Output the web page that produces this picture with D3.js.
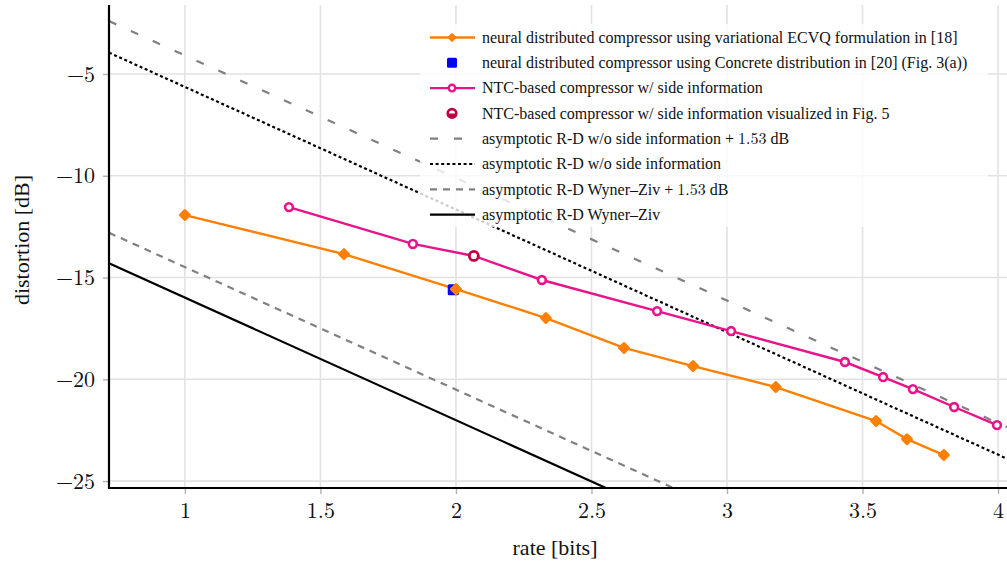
<!DOCTYPE html>
<html><head><meta charset="utf-8">
<script src="https://cdn.jsdelivr.net/npm/d3@7"></script>
<style>
html,body{margin:0;padding:0;background:#fff;}
</style></head>
<body>
<svg id="chart" width="1007" height="563"></svg>
<script>
// ---- data ----
const ecvqRate = [1.0, 1.587, 2.0, 2.332, 2.62, 2.875, 3.18, 3.55, 3.664, 3.80];
const ecvqDist = [-11.93, -13.85, -15.57, -16.99, -18.46, -19.35, -20.38, -22.05, -22.94, -23.72];
const concreteRate = [1.99];
const concreteDist = [-15.6];
const ntcRate = [1.384, 1.841, 2.066, 2.317, 2.742, 3.015, 3.435, 3.576, 3.686, 3.838, 3.996];
const ntcDist = [-11.54, -13.35, -13.94, -15.12, -16.65, -17.63, -19.15, -19.89, -20.48, -21.36, -22.25];
const ntcVisRate = [2.066];
const ntcVisDist = [-13.94];
const asymRate = [0.72, 4.033];
const noSiPlusDist = [-2.4, -22.35];
const noSiDist = [-3.95, -23.9];
const wzPlusDist = [-12.8, -32.75];
const wzDist = [-14.3, -34.25];
const xTicks = [1, 1.5, 2, 2.5, 3, 3.5, 4];
const yTicks = [-25, -20, -15, -10, -5];
// legend labels: [text, math part (Computer Modern), trailing text]
const legendLabels = [
  ["neural distributed compressor using variational ECVQ formulation in [18]", "", ""],
  ["neural distributed compressor using Concrete distribution in [20] (Fig. 3(a))", "", ""],
  ["NTC-based compressor w/ side information", "", ""],
  ["NTC-based compressor w/ side information visualized in Fig. 5", "", ""],
  ["asymptotic R-D w/o side information + ", "1.53", " dB"],
  ["asymptotic R-D w/o side information", "", ""],
  ["asymptotic R-D Wyner\u2013Ziv + ", "1.53", " dB"],
  ["asymptotic R-D Wyner\u2013Ziv", "", ""]
];

// ---- layout ----
const TEXTFONT = '"Liberation Serif", serif';
const MATHFONT = '"Latin Modern Roman", "Liberation Serif", serif';
const L = 109, R = 1007, T = 5, B = 488;
const x = d3.scaleLinear().domain([0.72, 4.033]).range([L, R]);
const y = d3.scaleLinear().domain([-25.34, -1.61]).range([B, T]);

const ORANGE = "#ff8000", PINK = "#e8138a", PURPLE = "#bf0040", BLUE = "#0000ff";

const svg = d3.select("#chart");
svg.append("defs").append("clipPath").attr("id","clip")
  .append("rect").attr("x",L).attr("y",T).attr("width",R-L).attr("height",B-T);

// grid
const grid = svg.append("g");
grid.selectAll(".gx").data(xTicks).join("line")
  .attr("x1",d=>x(d)).attr("x2",d=>x(d)).attr("y1",T).attr("y2",B)
  .attr("stroke","#e2e2e2").attr("stroke-width",1.6);
grid.selectAll(".gy").data(yTicks).join("line")
  .attr("x1",L).attr("x2",R).attr("y1",d=>y(d)).attr("y2",d=>y(d))
  .attr("stroke","#e2e2e2").attr("stroke-width",1.6);

const plot = svg.append("g").attr("clip-path","url(#clip)");
const line = d3.line().x(d=>x(d[0])).y(d=>y(d[1]));
const zip = (a,b)=>a.map((v,i)=>[v,b[i]]);

const asym = [
  {d: noSiPlusDist, color:"#808080", dash:"8,16", w:2.2},
  {d: noSiDist, color:"#000", dash:"3,2.6", w:2.2},
  {d: wzPlusDist, color:"#808080", dash:"7,6", w:2.2},
  {d: wzDist, color:"#000", dash:null, w:2.2}
];
asym.forEach(a=>{
  plot.append("path").datum(zip(asymRate,a.d)).attr("d",line)
    .attr("fill","none").attr("stroke",a.color).attr("stroke-width",a.w)
    .attr("stroke-dasharray",a.dash);
});

// ECVQ
plot.append("path").datum(zip(ecvqRate,ecvqDist)).attr("d",line)
  .attr("fill","none").attr("stroke",ORANGE).attr("stroke-width",2.4);
// NTC
plot.append("path").datum(zip(ntcRate,ntcDist)).attr("d",line)
  .attr("fill","none").attr("stroke",PINK).attr("stroke-width",2.4);

const diamond = d3.symbol().type(d3.symbolDiamond2).size(50);
// concrete square
plot.selectAll(".sq").data(zip(concreteRate,concreteDist)).join("rect")
  .attr("x",d=>x(d[0])-5.5).attr("y",d=>y(d[1])-5.5).attr("width",11).attr("height",11)
  .attr("rx",1.5).attr("fill",BLUE);
plot.selectAll(".dm").data(zip(ecvqRate,ecvqDist)).join("path")
  .attr("d",diamond).attr("transform",d=>`translate(${x(d[0])},${y(d[1])})`)
  .attr("fill",ORANGE).attr("stroke",ORANGE).attr("stroke-width",3).attr("stroke-linejoin","round");
plot.selectAll(".oc").data(zip(ntcRate,ntcDist)).join("circle")
  .attr("cx",d=>x(d[0])).attr("cy",d=>y(d[1])).attr("r",3.9)
  .attr("fill","#fff").attr("stroke",PINK).attr("stroke-width",2.6);
plot.selectAll(".vc").data(zip(ntcVisRate,ntcVisDist)).join("circle")
  .attr("cx",d=>x(d[0])).attr("cy",d=>y(d[1])).attr("r",4.5)
  .attr("fill","#fff").attr("stroke",PURPLE).attr("stroke-width",2.8);

// axes
const xAxis = svg.append("g").attr("transform",`translate(0,${B})`)
  .call(d3.axisBottom(x).tickValues(xTicks).tickSize(6).tickPadding(8).tickFormat(d3.format("")));
const yAxis = svg.append("g").attr("transform",`translate(${L},0)`)
  .call(d3.axisLeft(y).tickValues(yTicks).tickSize(6).tickPadding(8).tickFormat(d3.format("")));
[xAxis,yAxis].forEach(g=>{
  g.attr("font-family",null);
  g.select(".domain").remove();
  g.selectAll(".tick line").attr("stroke","#b0b0b0").attr("stroke-width",1.4);
  g.selectAll(".tick text").style("font-family",MATHFONT).style("font-size","22px").attr("fill","#111");
});
svg.append("line").attr("x1",L).attr("x2",L).attr("y1",T).attr("y2",B+1)
  .attr("stroke","#000").attr("stroke-width",2.2);
svg.append("line").attr("x1",L-1).attr("x2",R).attr("y1",B).attr("y2",B)
  .attr("stroke","#000").attr("stroke-width",2.2);

svg.append("text").attr("x",555).attr("y",555).attr("text-anchor","middle")
  .style("font-family",TEXTFONT).style("font-size","22px").attr("fill","#111").text("rate [bits]");
svg.append("text").attr("transform","translate(29,240) rotate(-90)").attr("text-anchor","middle")
  .style("font-family",TEXTFONT).style("font-size","22px").attr("fill","#111").text("distortion [dB]");

// legend
const lg = svg.append("g");
lg.append("rect").attr("x",420).attr("y",24).attr("width",568).attr("height",203)
  .attr("fill","#fff").attr("fill-opacity",0.8);
const ly0 = 37.5, ldy = 25.3, lx1 = 430, lx2 = 475, lxm = 452, ltx = 482;
const lyy = i => ly0 + i*ldy;
legendLabels.forEach((t,i)=>{
  const tx = lg.append("text").attr("x",ltx).attr("y",lyy(i)).attr("dy","0.33em")
    .style("font-family",TEXTFONT).style("font-size","16px").attr("fill","#111");
  tx.append("tspan").text(t[0]);
  if (t[1]) {
    tx.append("tspan").style("font-family",MATHFONT).text(t[1]);
    tx.append("tspan").text(t[2]);
  }
});
lg.append("line").attr("x1",lx1).attr("x2",lx2).attr("y1",lyy(0)).attr("y2",lyy(0)).attr("stroke",ORANGE).attr("stroke-width",2.4);
lg.append("path").attr("d",d3.symbol().type(d3.symbolDiamond2).size(26)).attr("transform",`translate(${lxm},${lyy(0)})`).attr("fill",ORANGE).attr("stroke",ORANGE).attr("stroke-width",2.4).attr("stroke-linejoin","round");
lg.append("rect").attr("x",lxm-5).attr("y",lyy(1)-5).attr("width",10).attr("height",10).attr("rx",1.5).attr("fill",BLUE);
lg.append("line").attr("x1",lx1).attr("x2",lx2).attr("y1",lyy(2)).attr("y2",lyy(2)).attr("stroke",PINK).attr("stroke-width",2.4);
lg.append("circle").attr("cx",lxm).attr("cy",lyy(2)).attr("r",3.3).attr("fill","#fff").attr("stroke",PINK).attr("stroke-width",2.4);
// half-filled circle
lg.append("circle").attr("cx",lxm).attr("cy",lyy(3)).attr("r",4.3).attr("fill","#fff").attr("stroke",PURPLE).attr("stroke-width",2.6);
lg.append("path").attr("d",d3.arc()({innerRadius:0,outerRadius:4.3,startAngle:Math.PI/2,endAngle:Math.PI*1.5}))
  .attr("transform",`translate(${lxm},${lyy(3)})`).attr("fill",PURPLE);
const lgLines = [
  {i:4,color:"#808080",dash:"8,16"},
  {i:5,color:"#000",dash:"3,2.6"},
  {i:6,color:"#808080",dash:"7,6"},
  {i:7,color:"#000",dash:null}
];
lgLines.forEach(s=>{
  lg.append("line").attr("x1",lx1).attr("x2",lx2).attr("y1",lyy(s.i)).attr("y2",lyy(s.i))
    .attr("stroke",s.color).attr("stroke-width",2.2).attr("stroke-dasharray",s.dash);
});
</script>
</body></html>
